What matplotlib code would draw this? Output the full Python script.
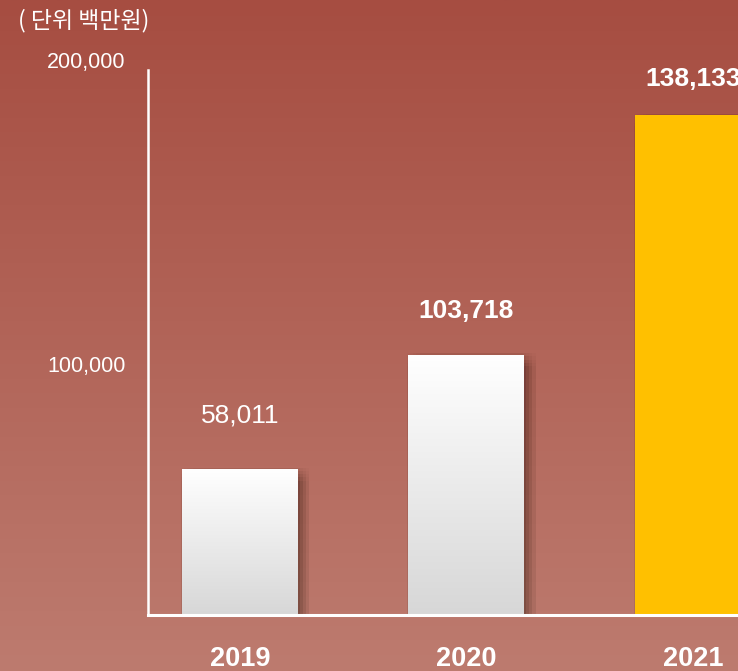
import numpy as np
import matplotlib
matplotlib.use('Agg')
import matplotlib.pyplot as plt
import matplotlib.patheffects as pe
from matplotlib.colors import LinearSegmentedColormap

# data
years = ['2019', '2020', '2021']
sales = [58011, 103718, 138133]
value_labels = ['58,011', '103,718', '138,133']
label_weights = ['normal', 'bold', 'bold']
tick_values = [100000, 200000]
tick_labels = ['100,000', '200,000']
unit_text = '( 단위 백만원)'

# the original chart's axis is not linear (last year is stretched),
# so use a piecewise scale: value -> pixels above the baseline
scale_values = [0, 110000, 138133, 200000]
scale_pos = [0, 276, 500, 555]


def fwd(v):
    return np.interp(v, scale_values, scale_pos)


def inv(p):
    return np.interp(p, scale_pos, scale_values)


plt.rcParams['font.family'] = ['Liberation Sans', 'Noto Sans CJK KR']

W, H = 738, 671
fig = plt.figure(figsize=(W / 100, H / 100), dpi=100)

# background gradient
bg = fig.add_axes([0, 0, 1, 1], zorder=-1)
bg_cmap = LinearSegmentedColormap.from_list('bg', ['#a64d41', '#bd7b6f'])
bg.imshow(np.linspace(0, 1, 256).reshape(-1, 1), cmap=bg_cmap, aspect='auto',
          extent=[0, 1, 0, 1])
bg.axis('off')

ax = fig.add_axes([148 / W, 1 - 615 / H, 590 / W, 555 / H])
ax.patch.set_alpha(0)
ax.set_yscale('function', functions=(fwd, inv))
ax.set_ylim(0, 200000)
ax.set_xlim(-0.406, 2.199)

# soft drop shadow built from several offset copies
shadow = []
for dx in (-4.5, -2.25, 0, 2.25, 4.5):
    for dy in (-4.5, -2.25, 0, 2.25, 4.5):
        shadow.append(pe.SimplePatchShadow(offset=(3.5 + dx, -3.5 + dy),
                                           shadow_rgbFace='black', alpha=0.014))

x = np.arange(len(years))
colors = ['#d9d9d9', '#d9d9d9', '#ffc000']
bars = ax.bar(x, sales, width=0.512, color=colors, zorder=2,
              path_effects=shadow + [pe.Normal()])

# white-to-grey gradient on the first two bars
bar_cmap = LinearSegmentedColormap.from_list('bar', ['#ffffff', '#d7d7d7'])
to_axes = ax.transData + ax.transAxes.inverted()
for b in bars[:2]:
    (ax0, ay0), (ax1, ay1) = to_axes.transform(
        [(b.get_x(), 0), (b.get_x() + b.get_width(), b.get_height())])
    im = ax.imshow(np.linspace(0, 1, 256).reshape(-1, 1), cmap=bar_cmap,
                   extent=[ax0, ax1, ay0, ay1], transform=ax.transAxes,
                   aspect='auto', zorder=2.1)
    im.set_clip_path(b)

ax.set_xlim(-0.406, 2.199)
ax.set_ylim(0, 200000)

# value labels
label_offsets = [38.5, 31.5, 26]
for i in range(len(sales)):
    ax.annotate(value_labels[i], (x[i], sales[i]), xytext=(0, label_offsets[i]),
                textcoords='offset points', ha='center', va='center',
                fontsize=19, color='white', fontweight=label_weights[i])

# axes styling
for side in ['top', 'right']:
    ax.spines[side].set_visible(False)
for side in ['left', 'bottom']:
    ax.spines[side].set_color('white')
    ax.spines[side].set_zorder(3)
ax.spines['left'].set_linewidth(1.8)
ax.spines['bottom'].set_linewidth(2.2)
ax.spines['left'].set_bounds(0, inv(545))

ax.set_yticks(tick_values, tick_labels)
ax.tick_params(axis='y', length=0, pad=16, labelsize=15.5, colors='white')
ax.set_xticks(x, years)
ax.tick_params(axis='x', length=0, pad=22, labelsize=19.5, colors='white')
for lbl in ax.get_xticklabels():
    lbl.set_fontweight('bold')

fig.text(18 / W, 1 - 21 / H, unit_text, fontsize=16.5, color='white', va='center',
         family=['Noto Sans CJK KR', 'Liberation Sans'])

fig.savefig('out.png', dpi=100)
